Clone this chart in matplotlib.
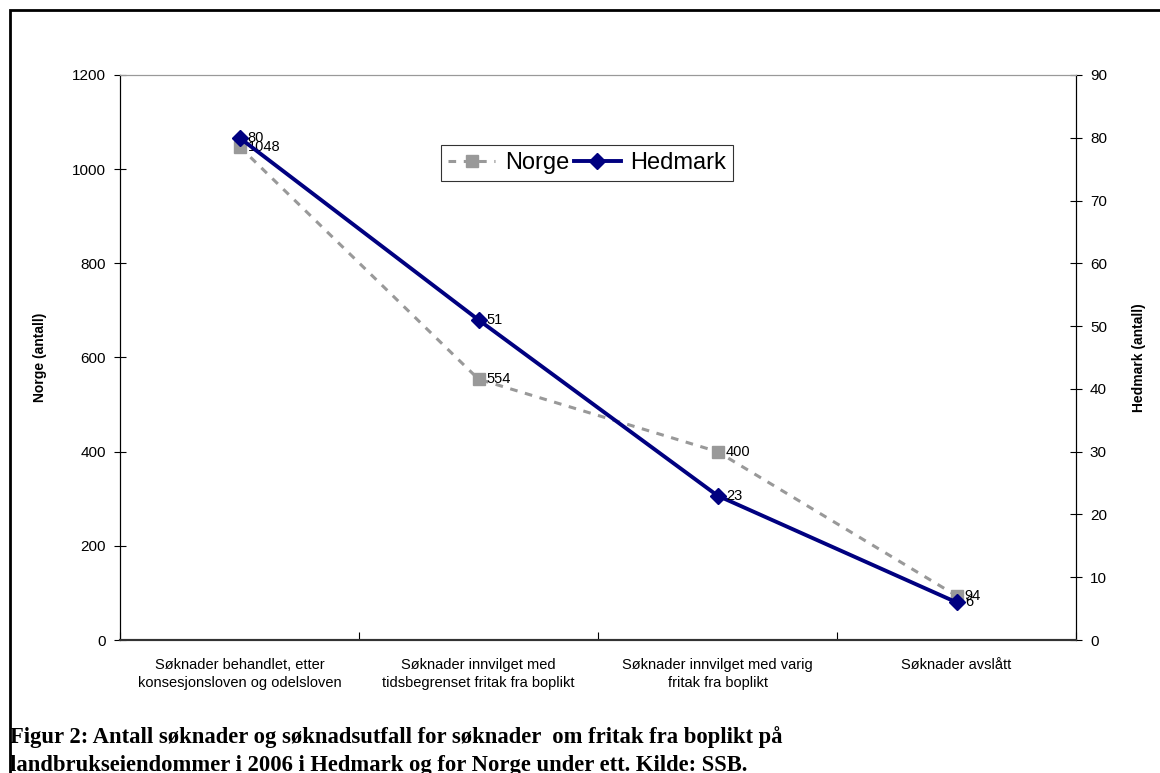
import matplotlib.pyplot as plt
import numpy as np

categories = ["Søknader behandlet, etter\nkonsesjonsloven og odelsloven",
              "Søknader innvilget med\ntidsbegrenset fritak fra boplikt",
              "Søknader innvilget med varig\nfritak fra boplikt",
              "Søknader avslått"]
norge = [1048, 554, 400, 94]
hedmark = [80, 51, 23, 6]

plt.rcParams['font.family'] = ['Liberation Sans', 'DejaVu Sans']

fig = plt.figure(figsize=(11.6, 7.73), dpi=100)
ax = fig.add_axes([120/1160, 1-640/773, (1076-120)/1160, (640-75)/773])
ax2 = ax.twinx()

x = np.arange(len(categories)) + 0.5

ln1, = ax.plot(x, norge, color='#999999', linestyle=(0, (2.5, 2.5)), linewidth=2.2,
               marker='s', markersize=8, markeredgecolor='#999999', label='Norge')
ln2, = ax2.plot(x, hedmark, color='#000080', linewidth=2.8,
                marker='D', markersize=8, label='Hedmark')

for xi, v in zip(x, norge):
    ax.annotate(str(v), (xi, v), xytext=(6, 0), textcoords='offset points',
                fontsize=10.5, va='center', ha='left')
for xi, v in zip(x, hedmark):
    ax2.annotate(str(v), (xi, v), xytext=(6, 0), textcoords='offset points',
                 fontsize=10.5, va='center', ha='left')

ax.set_xlim(0, 4)
ax.set_ylim(0, 1200)
ax2.set_ylim(0, 90)
ax.set_yticks(range(0, 1201, 200))
ax2.set_yticks(range(0, 91, 10))
ax.set_xticks(range(0, 5))
ax.set_xticklabels([])
ax.set_xticks(x, minor=True)
ax.set_xticklabels(categories, minor=True, fontsize=10.5, linespacing=1.35)
ax.tick_params(axis='x', which='minor', length=0, pad=13)
ax.tick_params(axis='x', which='major', direction='in', length=6)
ax.tick_params(axis='y', direction='inout', length=8, labelsize=11, pad=6)
ax2.tick_params(axis='y', direction='inout', length=8, labelsize=11, pad=6)

for a in (ax, ax2):
    a.spines['top'].set_color('#999999')
    a.spines['left'].set_color('black')
    a.spines['right'].set_color('black')
    a.spines['bottom'].set_color('#333333')
    a.spines['bottom'].set_linewidth(1.5)

ax.set_ylabel('Norge (antall)', fontsize=10, fontweight='bold', labelpad=18)
ax2.set_ylabel('Hedmark (antall)', fontsize=10, fontweight='bold', rotation=90, labelpad=18)

leg = ax.legend([ln1, ln2], ['Norge', 'Hedmark'], loc='upper left',
                bbox_to_anchor=((441-120)/(1076-120), 1-(145-75)/(640-75)),
                ncol=2, fontsize=17, frameon=True, fancybox=False,
                edgecolor='black', handlelength=2.0, columnspacing=0.2,
                handletextpad=0.4, borderpad=0.3, borderaxespad=0)
leg.get_frame().set_linewidth(0.8)

# outer chart border (right and bottom edges fall outside the image)
fig.patches.append(plt.Rectangle((10/1160, -0.1), 1.2, 1-10/773+0.1,
                                 transform=fig.transFigure, fill=False,
                                 edgecolor='black', linewidth=2))

fig.text(10/1160, 1-743/773,
         "Figur 2: Antall søknader og søknadsutfall for søknader  om fritak fra boplikt på",
         family=['Liberation Serif', 'DejaVu Serif'], fontweight='bold',
         fontsize=16.3, va='baseline')
fig.text(10/1160, 1-771/773,
         "landbrukseiendommer i 2006 i Hedmark og for Norge under ett. Kilde: SSB.",
         family=['Liberation Serif', 'DejaVu Serif'], fontweight='bold',
         fontsize=16.3, va='baseline')

fig.savefig('out.png', dpi=100)
